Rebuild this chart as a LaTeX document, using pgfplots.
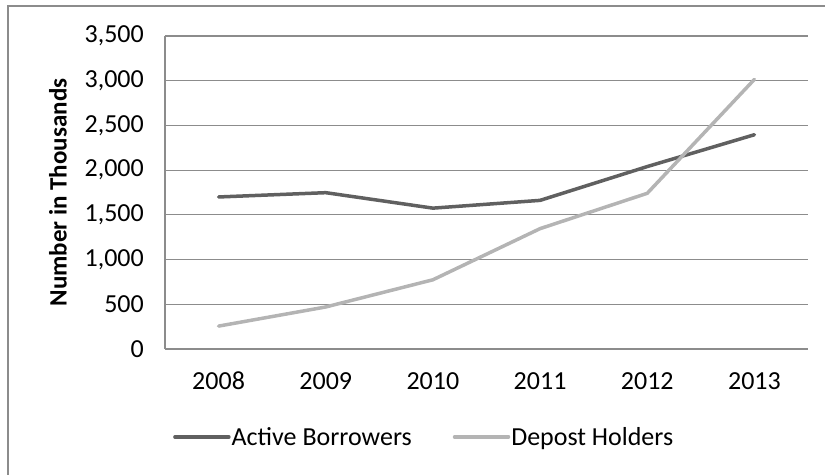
\documentclass[border=0pt]{standalone}
\usepackage{pgfplots}
\pgfplotsset{compat=1.18}
\usepackage{fontspec}
\setmainfont{Carlito}
\definecolor{darkln}{HTML}{606060}
\definecolor{lightln}{HTML}{B4B4B4}
\definecolor{gridc}{HTML}{8C8C8C}
\begin{document}
\begin{tikzpicture}[x=1bp,y=1bp]
\useasboundingbox (-165,-126) rectangle (660,349);
\draw[gridc, line width=2bp] (-157,-130) -- (-157,343) -- (665,343);
\begin{axis}[
  at={(0,0)}, anchor=south west,
  scale only axis, width=643bp, height=313bp,
  xmin=-0.5, xmax=5.5, ymin=0, ymax=3500,
  xtick={0,1,2,3,4,5}, xticklabels={2008,2009,2010,2011,2012,2013},
  ytick={0,500,1000,1500,2000,2500,3000,3500},
  ymajorgrids, grid style={gridc, line width=1.2bp},
  axis x line*=bottom, axis y line*=left,
  axis line style={gridc, line width=1.2bp, -},
  major tick length=0pt, tick style={draw=none},
  font=\fontsize{26bp}{31bp}\selectfont,
  /pgf/number format/assume math mode=true,
  /pgf/number format/1000 sep={,},
  scaled y ticks=false,
  yticklabel style={anchor=east, inner sep=0pt, xshift=-21bp},
  xticklabel style={anchor=base, inner sep=0pt, yshift=-41bp},
  ylabel={Number in Thousands},
  ylabel style={at={(axis description cs:-0.1664,0.5)}, anchor=center, font=\fontsize{25bp}{30bp}\selectfont\bfseries},
  legend columns=2,
  legend style={at={(axis description cs:0.0124,-0.281)}, anchor=west, draw=none, fill=none, inner sep=0pt,
    nodes={inner sep=1bp, anchor=west}, font=\fontsize{26bp}{31bp}\selectfont,
    /tikz/every even column/.append style={column sep=40bp}},
  legend image code/.code={\draw[#1, line width=3.5bp] (0bp,0bp) -- (54bp,0bp);},
]
\addplot[darkln, line width=3.5bp, line cap=round, line join=round] coordinates {
 (0,1700) (1,1748) (2,1575) (3,1662) (4,2040) (5,2396)};
\addlegendentry{Active Borrowers}
\addplot[lightln, line width=3.5bp, line cap=round, line join=round] coordinates {
 (0,256) (1,470) (2,774) (3,1346) (4,1741) (5,3015)};
\addlegendentry{Depost Holders}
\end{axis}
\end{tikzpicture}
\end{document}
